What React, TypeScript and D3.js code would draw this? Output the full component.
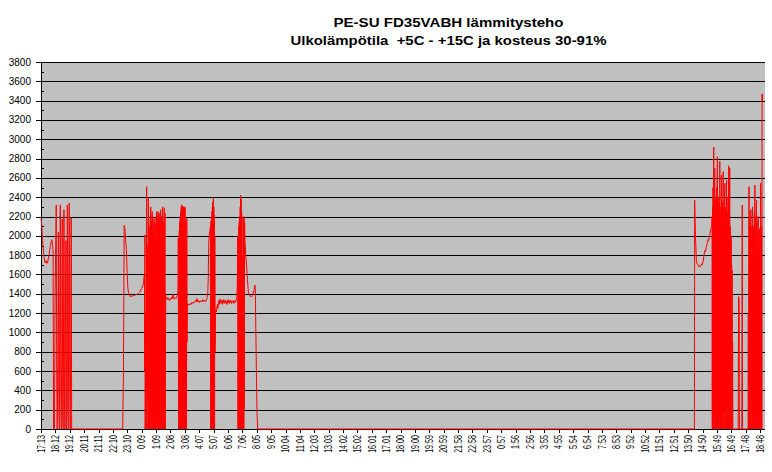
import React from 'react';
import * as d3 from 'd3';

const TITLE_1 = 'PE-SU FD35VABH lämmitysteho';
const TITLE_2 = 'Ulkolämpötila  +5C - +15C ja kosteus 30-91%';

// x tick labels (one every 59.5 minutes from 17:13)
const timeLabels = [
  '17:13', '18:12', '19:12', '20:11', '21:11', '22:10', '23:10', '0:09', '1:09', '2:08',
  '3:08', '4:07', '5:07', '6:06', '7:06', '8:05', '9:05', '10:04', '11:04', '12:03',
  '13:03', '14:02', '15:02', '16:01', '17:01', '18:00', '19:00', '19:59', '20:59', '21:58',
  '22:58', '23:57', '0:57', '1:56', '2:56', '3:55', '4:55', '5:54', '6:54', '7:53',
  '8:53', '9:52', '10:52', '11:51', '12:51', '13:50', '14:50', '15:49', '16:49', '17:48',
  '18:48',
];
const LABEL_STEP_MIN = 59.5;
const TOTAL_MIN = 2995;
const Y_MAX = 3800;
const yTickValues = [0, 200, 400, 600, 800, 1000, 1200, 1400, 1600, 1800, 2000, 2200, 2400, 2600, 2800, 3000, 3200, 3400, 3600, 3800];

type Pt = [number, number]; // [minutes since 17:13, watts]

const eveningStart: Pt[] = [
  [0, 2180], [3, 2120], [6, 1950], [9, 1890], [12, 1790], [15, 1740], [18, 1720], [21, 1745],
  [24, 1715], [27, 1720], [30, 1760], [33, 1800], [36, 1850], [39, 1900], [42, 1940], [45, 1960],
  [48, 1900], [50, 1820], [52, 0],
];
const eveningBursts: Pt[] = [
  [56, 0], [58, 1300], [63, 2320], [65, 600], [67, 0], [70, 800], [72, 2040], [74, 200], [76, 0],
  [78, 1500], [80, 2320], [82, 400], [84, 0], [86, 900], [88, 2175], [90, 100], [92, 0], [95, 2270],
  [97, 300], [99, 0], [101, 1100], [103, 1950], [105, 0], [107, 700], [109, 2320], [111, 200], [113, 0],
  [115, 1600], [117, 2340], [119, 500], [121, 0], [123, 900], [125, 2185], [127, 0],
];
const nightPlateau: Pt[] = [
  [338, 0], [341, 560], [344, 2110], [347, 2080], [350, 1950], [353, 1860], [356, 1650], [359, 1470],
  [362, 1410], [365, 1385], [368, 1370], [371, 1380], [374, 1372], [377, 1380], [380, 1375], [383, 1385],
  [386, 1382], [389, 1390], [392, 1386], [395, 1395], [398, 1392], [401, 1400], [404, 1408], [407, 1415],
  [410, 1425], [413, 1440], [416, 1455], [419, 1470], [422, 1490], [425, 1530], [427, 1600],
];
const nightBurstA: Pt[] = [
  [428, 1600], [429, 600], [430, 2010], [431, 0], [433, 1200], [435, 0], [437, 2510], [438, 800], [439, 0],
  [441, 1900], [442, 300], [444, 2390], [445, 0], [447, 1700], [448, 0], [450, 2100], [451, 0], [452, 2200],
  [453, 200], [454, 2300], [455, 0], [456, 2150], [457, 100], [458, 2050], [459, 0], [460, 2250], [461, 0],
  [462, 2200], [463, 300], [464, 1900], [465, 0], [466, 2100], [467, 0], [468, 2180], [469, 150], [470, 2000],
  [471, 0], [472, 2130], [473, 0], [474, 1950], [475, 200], [476, 2200], [477, 0], [478, 2100], [479, 2250],
  [480, 0], [481, 2200], [482, 100], [483, 2150], [484, 0], [485, 2250], [486, 0], [487, 2050], [488, 300],
  [489, 2180], [490, 0], [491, 2100], [492, 2235], [493, 0], [494, 2150], [495, 2270], [496, 0], [497, 2000],
  [498, 100], [499, 2200], [500, 0], [501, 2100], [502, 0], [503, 2300], [504, 0], [505, 2050], [506, 200],
  [507, 2150], [508, 0], [509, 2100], [510, 2290], [511, 0], [512, 1800], [513, 2235], [514, 0], [515, 900],
  [516, 1400], [517, 1360],
];
const nightPlateau2: Pt[] = [
  [519, 1355], [522, 1340], [525, 1360], [528, 1345], [531, 1330], [534, 1350], [537, 1340], [540, 1365],
  [543, 1350], [546, 1395], [549, 1350], [552, 1345], [555, 1360], [558, 1350], [561, 1365], [564, 1380],
  [566, 1420],
];
const nightBurstB: Pt[] = [
  [567, 1450], [568, 1980], [569, 0], [570, 1900], [571, 0], [572, 2050], [573, 100], [574, 2150], [575, 0],
  [576, 2200], [577, 0], [578, 2250], [579, 0], [580, 2300], [581, 0], [582, 2320], [583, 0], [584, 2280],
  [585, 0], [586, 2310], [587, 100], [588, 2250], [589, 0], [590, 2300], [591, 0], [592, 2200], [593, 0],
  [594, 2280], [595, 0], [596, 2300], [597, 0], [598, 2150], [599, 0], [601, 1900], [602, 0], [603, 2180],
  [604, 900], [605, 1300],
];
const earlyMorning: Pt[] = [
  [606, 1290], [609, 1280], [612, 1295], [615, 1285], [618, 1300], [621, 1290], [624, 1310], [627, 1300],
  [630, 1315], [633, 1305], [636, 1320], [639, 1330], [642, 1315], [645, 1350], [648, 1320], [651, 1330],
  [654, 1310], [657, 1325], [660, 1320], [663, 1330], [666, 1315], [669, 1340], [672, 1325], [675, 1320],
  [678, 1335], [681, 1320], [684, 1330], [687, 1360], [690, 1410], [692, 1560],
];
const morningBurstA: Pt[] = [
  [693, 1800], [695, 2000], [697, 2030], [699, 2050], [701, 2100], [702, 0], [703, 2150], [704, 0],
  [705, 2200], [706, 0], [707, 2250], [708, 0], [709, 2300], [710, 0], [711, 2350], [712, 0], [713, 2390],
  [714, 0], [715, 2300], [716, 0], [717, 2215], [718, 0], [719, 2000], [720, 800],
];
const morningPlateau: Pt[] = [
  [722, 1215], [724, 1240], [726, 1210], [728, 1270], [730, 1290], [732, 1250], [734, 1310], [736, 1330],
  [738, 1290], [740, 1345], [742, 1320], [744, 1300], [746, 1335], [748, 1320], [750, 1290], [752, 1330],
  [754, 1310], [756, 1340], [758, 1300], [760, 1320], [762, 1310], [764, 1335], [766, 1300], [768, 1320],
  [770, 1290], [772, 1330], [774, 1340], [776, 1310], [778, 1325], [780, 1300], [782, 1335], [784, 1315],
  [786, 1320], [788, 1300], [790, 1330], [792, 1320], [794, 1310], [796, 1330], [798, 1300], [800, 1320],
  [802, 1310], [804, 1330], [806, 1320], [808, 1340], [810, 1360], [812, 1500],
];
const morningBurstB: Pt[] = [
  [813, 1700], [814, 1980], [815, 0], [816, 2000], [817, 0], [818, 2100], [819, 0], [820, 2150], [821, 0],
  [822, 2200], [823, 0], [824, 2300], [825, 0], [826, 2420], [827, 0], [828, 2380], [829, 0], [830, 2250],
  [831, 0], [833, 1800], [834, 0], [836, 2185], [837, 0], [838, 2150], [839, 0], [840, 2200], [841, 200],
  [842, 2150],
];
const morningEnd: Pt[] = [
  [844, 1940], [847, 1800], [851, 1670], [854, 1550], [858, 1410], [862, 1385], [866, 1372], [869, 1378],
  [872, 1370], [875, 1390], [878, 1410], [882, 1440], [885, 1490], [887, 1420], [888, 1150], [890, 800],
  [892, 385], [894, 150], [896, 0],
];
const afternoonRise: Pt[] = [
  [2703, 0], [2704, 2370], [2707, 2030], [2711, 1750], [2714, 1710], [2718, 1700], [2721, 1680],
  [2725, 1690], [2728, 1680], [2732, 1710], [2735, 1700], [2739, 1730], [2742, 1790], [2746, 1850],
  [2749, 1840], [2752, 1880], [2756, 1920], [2759, 1960], [2762, 1950], [2766, 2000], [2770, 2060],
  [2773, 2090],
];
const AFTERNOON_BURST_START = 2775;
const afternoonBurstValues = [
  2110, 2200, 0, 2300, 200, 2500, 0, 2400, 2920, 0, 2300, 100, 2700, 0, 2200, 300, 2400, 0, 2100, 0,
  2500, 100, 2300, 2820, 0, 2200, 400, 2400, 0, 2000, 0, 2350, 200, 2770, 0, 2300, 0, 2150, 300, 2400,
  2630, 0, 2200, 0, 2350, 100, 2250, 2665, 0, 2300, 0, 2100, 200, 2400, 2545, 0, 2200, 0, 2300, 300,
  2150, 2580, 0, 2250, 0, 2050, 100, 2400, 0, 2300, 2725, 0, 2200, 0, 2700, 0, 2100, 200, 1900, 0,
  2000, 0, 1700, 0, 1645, 0, 900, 0,
];
const eveningSpikes: Pt[] = [
  [2884, 0], [2886, 1370], [2888, 1330], [2889, 0], [2899, 0], [2901, 2320], [2902, 0], [2924, 0],
];
const EVENING_BURST_START = 2925;
const eveningBurstValues = [
  0, 1200, 0, 2000, 2510, 0, 2100, 100, 2200, 0, 1900, 2270, 0, 2100, 300, 2000, 0, 2200, 2300, 0,
  1800, 0, 2100, 200, 2000, 0, 2250, 100, 2525, 0, 2100, 0, 2200, 300, 2000, 2370, 0, 2150, 0, 1900,
  200, 2100, 2200, 0, 1800, 0, 2000, 100, 2075, 0, 1900, 0, 2545, 0, 2000, 300, 2100, 0, 3470, 3400,
  3450, 3460,
];

const fromValues = (start: number, values: number[]): Pt[] => values.map((v, i) => [start + i, v]);

const series: Pt[] = [
  ...eveningStart, ...eveningBursts, ...nightPlateau, ...nightBurstA, ...nightPlateau2, ...nightBurstB,
  ...earlyMorning, ...morningBurstA, ...morningPlateau, ...morningBurstB, ...morningEnd, ...afternoonRise,
  ...fromValues(AFTERNOON_BURST_START, afternoonBurstValues), ...eveningSpikes,
  ...fromValues(EVENING_BURST_START, eveningBurstValues),
];

const W = 772;
const H = 472;
const M = { left: 41, right: 765, top: 62, bottom: 429 };
const FONT = '"Liberation Sans", Arial, sans-serif';

export default function App() {
  const x = d3.scaleLinear().domain([0, TOTAL_MIN]).range([M.left, M.right]);
  const y = d3.scaleLinear().domain([0, Y_MAX]).range([M.bottom, M.top]);
  const line = d3.line<Pt>().x((d) => x(d[0])).y((d) => y(d[1]));
  const minorTicks = yTickValues.slice(0, -1).map((v) => v + 100);

  return (
    <svg width={W} height={H} style={{ position: 'absolute', left: 0, top: 0, background: '#fff' }} fontFamily={FONT}>
      <rect x={M.left} y={M.top} width={M.right - M.left} height={M.bottom - M.top} fill="#C0C0C0" />
      {yTickValues.map((v) => (
        <g key={v}>
          <line x1={M.left - 5} x2={M.right} y1={Math.round(y(v)) + 0.5} y2={Math.round(y(v)) + 0.5} stroke="#000" strokeWidth={1} />
          <text x={31} y={y(v)} dy="0.35em" textAnchor="end" fontSize={10} fill="#000">{v}</text>
        </g>
      ))}
      {minorTicks.map((v) => (
        <line key={v} x1={M.left} x2={M.left + 3} y1={Math.round(y(v)) + 0.5} y2={Math.round(y(v)) + 0.5} stroke="#000" />
      ))}
      <line x1={M.left + 0.5} x2={M.left + 0.5} y1={M.top} y2={M.bottom} stroke="#000" />
      <line x1={M.left} x2={M.right} y1={M.bottom + 0.5} y2={M.bottom + 0.5} stroke="#000" />
      {timeLabels.map((lab, i) => {
        const px = Math.round(x(i * LABEL_STEP_MIN)) + 0.5;
        return (
          <g key={i}>
            <line x1={px} x2={px} y1={M.bottom} y2={M.bottom + 4} stroke="#000" />
            <text
              transform={`translate(${x(i * LABEL_STEP_MIN)},435) rotate(-90) scale(0.68,1)`}
              textAnchor="end"
              dy="0.35em"
              fontSize={10.5}
              fill="#000"
            >
              {lab}
            </text>
          </g>
        );
      })}
      <path d={line(series) ?? ''} fill="none" stroke="#FF0000" strokeWidth={1} />
      <text x={448.5} y={26.5} textAnchor="middle" fontSize={12.5} fontWeight="bold" textLength={230} lengthAdjust="spacingAndGlyphs" style={{ whiteSpace: 'pre' }}>{TITLE_1}</text>
      <text x={448.5} y={44.5} textAnchor="middle" fontSize={12.5} fontWeight="bold" textLength={316} lengthAdjust="spacingAndGlyphs" style={{ whiteSpace: 'pre' }}>{TITLE_2}</text>
    </svg>
  );
}
